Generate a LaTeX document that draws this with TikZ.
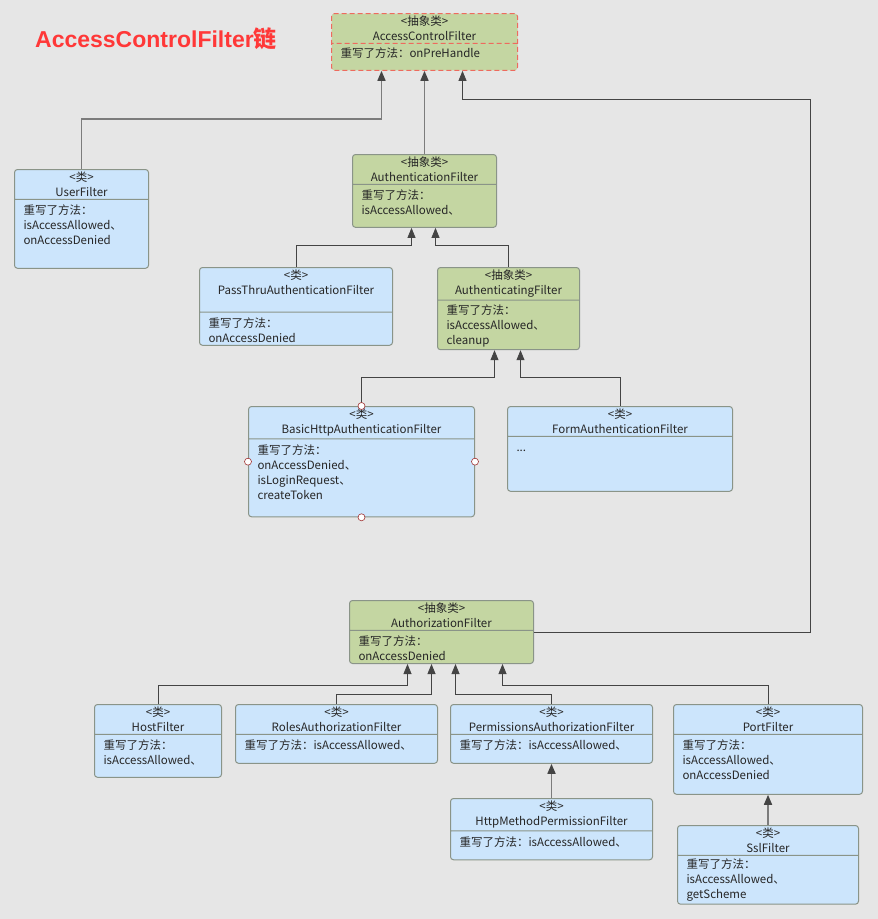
\documentclass[tikz,border=0pt]{standalone}
\usepackage{fontspec}
\setmainfont{Noto Sans CJK SC}
\newfontfamily\titlefont{Liberation Sans}
\newfontfamily\cjktitle{Noto Sans CJK SC}
\usetikzlibrary{shapes.multipart,arrows.meta}
\setlength\parindent{0pt}
\newcommand{\ctr}[1]{\hbox to\hsize{\hfil#1\hfil}}
\definecolor{bg}{HTML}{E6E6E6}
\definecolor{absgreen}{HTML}{C4D6A2}
\definecolor{classblue}{HTML}{CCE5FC}
\definecolor{boxline}{HTML}{8A9488}
\definecolor{dashred}{HTML}{EE6A5E}
\definecolor{titlered}{HTML}{FF3838}
\definecolor{linegray}{HTML}{444444}
\definecolor{heavygray}{HTML}{7C7C7C}
\definecolor{handlered}{HTML}{A03030}

\begin{document}
\begin{tikzpicture}[x=1pt,y=-1pt,>={Triangle[length=10pt,width=8pt,color=linegray]},
  box/.style={rectangle split,rectangle split parts=2,draw=boxline,line width=1pt,
    rounded corners=3pt,anchor=north west,inner xsep=9pt,inner ysep=2pt,align=left,
    font=\fontsize{11.5}{15}\selectfont,text=black!85},
  class node/.style={box,fill=classblue},
  abstract node/.style={box,fill=absgreen},
  extends/.style={->,draw=linegray,line width=0.8pt},
  heavy extends/.style={->,draw=heavygray,line width=1.6pt},
  handle/.style={draw=handlered,fill=white,line width=0.6pt}]

  \fill[bg] (0,0) rectangle (878,919);
  \useasboundingbox (0,0) rectangle (878,919);

  \node[anchor=west,inner sep=0pt,text=titlered,font=\titlefont\bfseries\fontsize{23}{27}\selectfont]
    (title) at (35,39) {AccessControlFilter{\cjktitle 链}};

  % AccessControlFilter and its direct children
  \node[abstract node,draw=dashred,dash pattern=on 5pt off 3pt,text width=168pt]
    (acf) at (331,13) {\ctr{<抽象类>}\\\ctr{AccessControlFilter}
    \nodepart{two}\rule{0pt}{12pt}重写了方法：onPreHandle\rule[-10pt]{0pt}{10pt}};
  \node[class node,text width=116pt] (user) at (14,169)
    {\ctr{<类>}\\\ctr{UserFilter}
    \nodepart{two}\rule{0pt}{13pt}重写了方法：\\isAccessAllowed、\\onAccessDenied\rule[-21pt]{0pt}{21pt}};
  \node[abstract node,text width=126pt] (authn) at (352,154)
    {\ctr{<抽象类>}\\\ctr{AuthenticationFilter}
    \nodepart{two}\rule{0pt}{13pt}重写了方法：\\isAccessAllowed、\rule[-10pt]{0pt}{10pt}};

  % AuthenticationFilter branch
  \node[class node,text width=175pt] (pass) at (199,267)
    {\ctr{<类>}\\\ctr{PassThruAuthenticationFilter\rule[-15pt]{0pt}{15pt}}
    \nodepart{two}\rule{0pt}{13pt}重写了方法：\\onAccessDenied};
  \node[abstract node,text width=124pt] (authc) at (437,267)
    {\ctr{<抽象类>}\\\ctr{AuthenticatingFilter}
    \nodepart{two}\rule{0pt}{12pt}重写了方法：\\isAccessAllowed、\\cleanup};
  \node[class node,text width=208pt] (basic) at (248,406)
    {\ctr{<类>}\\\ctr{BasicHttpAuthenticationFilter}
    \nodepart{two}\rule{0pt}{13pt}重写了方法：\\onAccessDenied、\\isLoginRequest、\\createToken\rule[-15pt]{0pt}{15pt}};
  \node[class node,text width=207pt] (form) at (507,406)
    {\ctr{<类>}\\\ctr{FormAuthenticationFilter}
    \nodepart{two}\rule{0pt}{13pt}...\rule[-37pt]{0pt}{37pt}};

  % AuthorizationFilter branch
  \node[abstract node,text width=166pt] (authz) at (349,600)
    {\ctr{<抽象类>}\\\ctr{AuthorizationFilter}
    \nodepart{two}\rule{0pt}{13pt}重写了方法：\\onAccessDenied};
  \node[class node,text width=109pt] (host) at (94,704)
    {\ctr{<类>}\\\ctr{HostFilter}
    \nodepart{two}\rule{0pt}{13pt}重写了方法：\\isAccessAllowed、\rule[-10pt]{0pt}{10pt}};
  \node[class node,text width=184pt] (roles) at (235,704)
    {\ctr{<类>}\\\ctr{RolesAuthorizationFilter}
    \nodepart{two}\rule{0pt}{13pt}重写了方法：isAccessAllowed、\rule[-11pt]{0pt}{11pt}};
  \node[class node,text width=184pt] (perm) at (450,704)
    {\ctr{<类>}\\\ctr{PermissionsAuthorizationFilter}
    \nodepart{two}\rule{0pt}{13pt}重写了方法：isAccessAllowed、\rule[-11pt]{0pt}{11pt}};
  \node[class node,text width=184pt] (httpm) at (450,798)
    {\ctr{<类>}\\\ctr{HttpMethodPermissionFilter}
    \nodepart{two}\rule{0pt}{13pt}重写了方法：isAccessAllowed、\rule[-11pt]{0pt}{11pt}};
  \node[class node,text width=171pt] (port) at (673,704)
    {\ctr{<类>}\\\ctr{PortFilter}
    \nodepart{two}\rule{0pt}{13pt}重写了方法：\\isAccessAllowed、\\onAccessDenied\rule[-12pt]{0pt}{12pt}};
  \node[class node,text width=163pt] (ssl) at (677,825)
    {\ctr{<类>}\\\ctr{SslFilter}
    \nodepart{two}\rule{0pt}{11pt}重写了方法：\\isAccessAllowed、\\getScheme};

  % inheritance arrows
  \draw[heavy extends] (user.north) -- ++(0,-50) -| ([xshift=-43pt]acf.south);
  \draw[heavy extends] (authn.north) -- (acf.south);
  \draw[extends] (authz.east) -- ++(276,0) -- ++(0,-533) -| ([xshift=38pt]acf.south);
  \draw[extends] (pass.north) -- ++(0,-22) -| ([xshift=-13pt]authn.south);
  \draw[extends] (authc.north) -- ++(0,-22) -| ([xshift=11pt]authn.south);
  \draw[extends] (basic.north) -- ++(0,-29) -| ([xshift=-14pt]authc.south);
  \draw[extends] (form.north) -- ++(0,-29) -| ([xshift=12pt]authc.south);
  \draw[extends] (host.north) -- ++(0,-19) -| ([xshift=-34pt]authz.south);
  \draw[extends] (roles.north) -- ++(0,-10) -| ([xshift=-10pt]authz.south);
  \draw[extends] (perm.north) -- ++(0,-10) -| ([xshift=14pt]authz.south);
  \draw[extends] (port.north) -- ++(0,-19) -| ([xshift=61pt]authz.south);
  \draw[heavy extends] (httpm.north) -- (perm.south);
  \draw[heavy extends] (ssl.north) -- (port.south);

  % selection handles
  \draw[handle] (basic.north) circle (3.5pt) (basic.west) circle (3.5pt)
    (basic.east) circle (3.5pt) (basic.south) circle (3.5pt);
\end{tikzpicture}
\end{document}
